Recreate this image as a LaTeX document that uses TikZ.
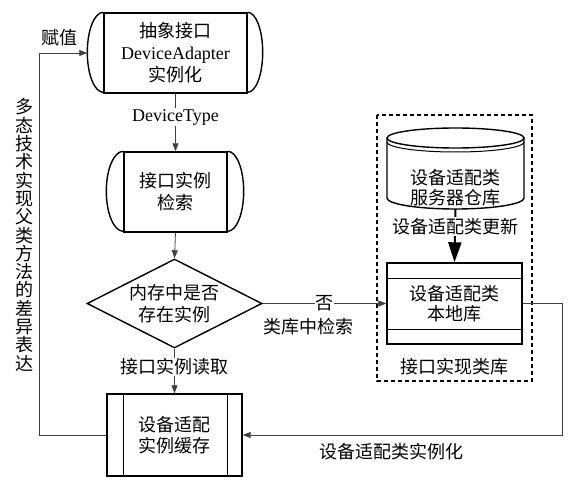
\documentclass[tikz,border=0pt]{standalone}
\usepackage{fontspec}
\setmainfont{Noto Sans CJK SC}
\newfontfamily\lat{Liberation Serif}
\usetikzlibrary{arrows.meta,shapes.geometric}
\tikzset{
  every node/.style={font=\fontsize{18pt}{22pt}\selectfont},
  box/.style={draw=black, line width=1.4pt, align=center, inner sep=0pt},
  edgeline/.style={draw=black, line width=1.4pt},
  conn/.style={draw=black!75, line width=0.8pt, -{Triangle[length=8pt,width=6pt]}},
  lbl/.style={fill=white, inner sep=1pt, align=center},
  plain/.style={inner sep=0pt, align=center},
}
\begin{document}
\begin{tikzpicture}[x=1pt,y=1pt]
\useasboundingbox (0,0) rectangle (581,-489);

% top node
\node[box, minimum width=143pt, minimum height=80pt] (top) at (175.5,-53)
  {抽象接口\\{\lat DeviceAdapter}\\实例化};
\draw[edgeline] (top.north west) arc[start angle=90, end angle=270, x radius=16pt, y radius=40pt];
\draw[edgeline] (top.north east) arc[start angle=90, end angle=-90, x radius=15pt, y radius=40pt];

% search node
\node[box, minimum width=103pt, minimum height=80pt] (search) at (175.5,-192)
  {接口实例\\检索};
\draw[edgeline] (search.north west) arc[start angle=90, end angle=270, x radius=17pt, y radius=40pt];
\draw[edgeline] (search.north east) arc[start angle=90, end angle=-90, x radius=16pt, y radius=40pt];

% decision
\node[box, shape=diamond, aspect=1.97, minimum width=175pt, minimum height=89pt] (dec) at (174.5,-303.5)
  {内存中是否\\存在实例};

% cache
\node[box, minimum width=135pt, minimum height=82pt, font=\fontsize{18pt}{21pt}\selectfont] (cache) at (174.5,-435)
  {设备适配\\实例缓存};
\draw[edgeline] ([xshift=17pt]cache.north west) -- ([xshift=17pt]cache.south west);
\draw[edgeline] ([xshift=-15pt]cache.north east) -- ([xshift=-15pt]cache.south east);

% dashed container
\draw[black, line width=1.4pt, dash pattern=on 4pt off 3pt] (377,-115) rectangle (532,-381);
\node[plain] (implib) at (454,-367) {接口实现类库};

% cylinder repository
\draw[edgeline] (455.5,-138) ellipse[x radius=68.5pt, y radius=10pt];
\draw[black, line width=1pt] (387,-142) arc[start angle=180, end angle=360, x radius=68.5pt, y radius=10pt];
\draw[edgeline] (387,-138) -- (387,-198) arc[start angle=180, end angle=360, x radius=68.5pt, y radius=11pt] -- (524,-138);
\node[plain, font=\fontsize{18pt}{20pt}\selectfont] (repo) at (455.5,-188) {设备适配类\\服务器仓库};
\coordinate (repobot) at (455.5,-209);

% local library
\node[box, minimum width=135pt, minimum height=81pt, font=\fontsize{18pt}{20pt}\selectfont] (local) at (454.5,-303.5)
  {设备适配类\\本地库};
\draw[edgeline] ([yshift=-16pt]local.north west) -- ([yshift=-16pt]local.north east);
\draw[edgeline] ([yshift=15pt]local.south west) -- ([yshift=15pt]local.south east);

% connectors
\draw[conn] (top.south) -- node[lbl, pos=0.41] (dt) {\lat DeviceType} (search.north);
\draw[conn] (search.south) -- (dec.north);
\draw[conn] (dec.south) -- node[lbl, pos=0.41] (read) {接口实例读取} (cache.north);
\draw[conn] (dec.east) -- node[lbl, pos=0.5, inner sep=0.5pt] (no) {否} (local.west);
\node[plain] (libsearch) at (308,-327) {类库中检索};
\draw[black, line width=2pt, -{Triangle[length=20pt,width=13pt]}] (repobot) -- node[lbl, pos=0.33] (upd) {设备适配类更新} (local.north);
\draw[conn] (local.east) -- ++(40,0) |- (cache.east);
\node[plain] (inst) at (391,-452) {设备适配类实例化};
\draw[conn] (cache.west) -- ++(-67,0) |- ([xshift=-16pt]top.west);
\node[plain] (assign) at (59,-38) {赋值};
\node[plain, font=\fontsize{18pt}{18.3pt}\selectfont] (poly) at (25,-235)
  {多\\态\\技\\术\\实\\现\\父\\类\\方\\法\\的\\差\\异\\表\\达};
\end{tikzpicture}
\end{document}
